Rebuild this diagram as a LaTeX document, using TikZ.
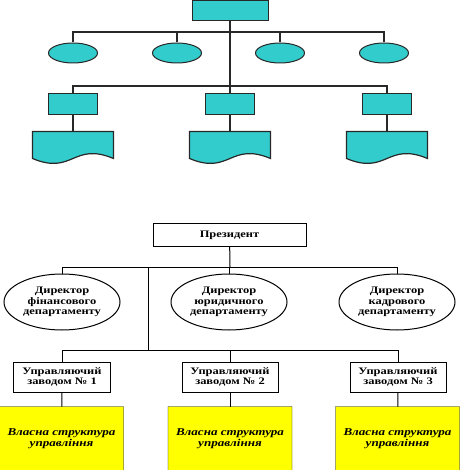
\documentclass[tikz,border=0pt]{standalone}
\usepackage{fontspec}
\setmainfont{Liberation Serif}[FakeStretch=1.25]
\usetikzlibrary{positioning,shapes.geometric,calc,backgrounds}
\definecolor{tealfill}{RGB}{51,204,204}
\definecolor{topline}{RGB}{40,40,40}
\definecolor{docyellow}{RGB}{255,255,0}

\begin{document}
\begin{tikzpicture}[x=1bp,y=-1bp,line width=1bp,
		tline/.style={draw=topline,line width=1.2bp},
		tbox/.style={draw=topline,fill=tealfill,inner sep=0,minimum width=49bp,minimum height=21bp},
		tell/.style={ellipse,draw=topline,fill=tealfill,inner sep=0,minimum width=49bp,minimum height=20bp},
		tdoc/.style={inner sep=0,minimum width=80bp,minimum height=26bp},
		txt/.style={font=\bfseries\fontsize{10}{10.5}\selectfont,align=center},
		bbox/.style={txt,draw,fill=white,inner sep=0},
		bell/.style={txt,ellipse,draw,fill=white,inner sep=0,minimum width=116bp,minimum height=56bp},
		bdoc/.style={inner sep=0,minimum width=123bp,minimum height=64bp,
			font=\bfseries\itshape\fontsize{10.5}{11}\selectfont,align=center}]
		\useasboundingbox (0,0) rectangle (460,470);
		
		\node[tbox,minimum width=76bp,minimum height=20bp] (root) at (230,11) {};
		\foreach \i/\x in {1/73,2/177,3/280,4/384}
			\node[tell] (o\i) at (\x,53) {};
		\foreach \i/\x in {1/73,2/230,3/387} {
			\node[tbox] (s\i) at (\x,104.5) {};
			\node[tdoc] (d\i) at (\x,145) {};
		}
		\coordinate (r1) at (230,32);
		\coordinate (r2) at (230,86);
		\draw[tline] (root) -- (r2);
		\foreach \i in {1,...,4} \draw[tline] (r1) -| (o\i);
		\foreach \i in {1,2,3} {
			\draw[tline] (r2) -| (s\i);
			\draw[tline] (s\i) -- (d\i);
		}
		
		\node[bbox,minimum width=153bp,minimum height=22bp] (pres) at (229.5,235) {Президент};
		\node[bell] (e1) at (62,302) {Директор\\фінансового\\департаменту};
		\node[bell] (e2) at (229,302) {Директор\\юридичного\\департаменту};
		\node[bell] (e3) at (397,302) {Директор\\кадрового\\департаменту};
		\foreach \i/\x in {1/62,2/230,3/398}
			\node[bbox,minimum width=96bp,minimum height=30bp] (m\i) at (\x,377) {Управляючий\\заводом № \i};
		\foreach \i/\x in {1/61.5,2/230,3/397.5}
			\node[bdoc] (f\i) at (\x,439) {Власна структура\\управління};
		\coordinate (p1) at (230,267);
		\coordinate (t1) at (148,267);
		\coordinate (t2) at (148,350);
		\draw (pres) -- (p1);
		\foreach \i in {1,2,3} \draw (p1) -| (e\i);
		\draw (t1) -- (t2);
		\foreach \i in {1,2,3} {
			\draw (t2) -| (m\i);
			\draw (m\i) -- (f\i);
		}
		
		\begin{scope}[on background layer]
			\foreach \n in {d1,d2,d3}
				\draw[draw=topline,line width=1.2bp,fill=tealfill] (\n.north west) -- (\n.north east) -- (\n.south east)
					.. controls ([yshift=17bp]\n.south) and ([yshift=-17bp]\n.south) .. (\n.south west) -- cycle;
			\foreach \n in {f1,f2,f3}
				\draw[fill=docyellow] (\n.north west) -- (\n.north east) -- ([yshift=-20bp]\n.south east)
					.. controls ([yshift=5bp]\n.south) and ([yshift=-45bp]\n.south) .. ([yshift=-20bp]\n.south west) -- cycle;
		\end{scope}
	\end{tikzpicture}
\end{document}
